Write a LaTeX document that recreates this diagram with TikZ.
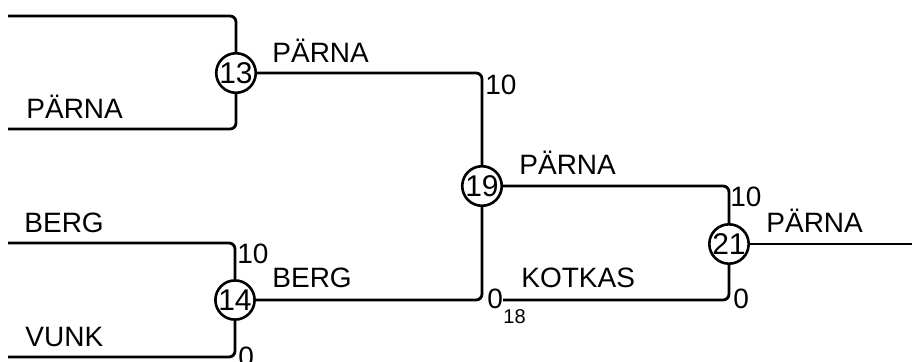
\documentclass[tikz,border=0pt]{standalone}
\usepackage{fontspec}
\setmainfont{Liberation Sans}
\usetikzlibrary{positioning}

\begin{document}
\begin{tikzpicture}[
    x=0.5pt, y=-0.5pt,
    line width=1.4pt,
    team/.style={font=\fontsize{14}{16}\selectfont, anchor=base west, inner sep=0pt},
    score/.style={font=\fontsize{14}{16}\selectfont, anchor=base west, inner sep=0pt},
    seed/.style={font=\fontsize{10}{12}\selectfont, anchor=base west, inner sep=0pt},
    game/.style={circle, draw, line width=1.3pt, minimum size=19.6pt, inner sep=0pt, font=\fontsize{15}{16}\selectfont},
    bracket/.style={rounded corners=3pt}
  ]
\useasboundingbox (0,0) rectangle (912,361);

% Games
\node[game] (g13) at (236,73) {13};
\node[game] (g14) at (235,300) {14};
\node[game] (g19) at (482,186) {19};
\node[game] (g21) at (729,244) {21};

% Free ends of the bracket
\coordinate (in1) at (8,16);
\coordinate (in2) at (8,129);
\coordinate (in3) at (8,243);
\coordinate (in4) at (8,357);
\coordinate (in18) at (503,300);
\coordinate (out) at (912,244);

% Lines
\draw[bracket] (in1) -| (g13);
\draw[bracket] (in2) -| (g13);
\draw[bracket] (in3) -| (g14);
\draw[bracket] (in4) -| (g14);
\draw[bracket] (g13) -| (g19);
\draw[bracket] (g14) -| (g19);
\draw[bracket] (g19) -| (g21);
\draw[bracket] (in18) -| (g21);
\draw (g21) -- (out);

% Team names
\node[team] (t2) at (25,118) {PÄRNA};
\node[team] (t3) at (23,232) {BERG};
\node[team] (t4) at (24,346) {VUNK};
\node[team] (w13) at (271,62) {PÄRNA};
\node[team] (w14) at (271,287) {BERG};
\node[team] (w19) at (518,174) {PÄRNA};
\node[team] (t18) at (520,287) {KOTKAS};
\node[team] (w21) at (765,232) {PÄRNA};

% Scores
\node[score] (s14a) at (236,263) {10};
\node[score] (s14b) at (237,366) {0};
\node[score] (s19a) at (484,94) {10};
\node[score] (s19b) at (486,308) {0};
\node[seed] (n18) at (502,323) {18};
\node[score] (s21a) at (729,206) {10};
\node[score] (s21b) at (732,308) {0};

\end{tikzpicture}
\end{document}
